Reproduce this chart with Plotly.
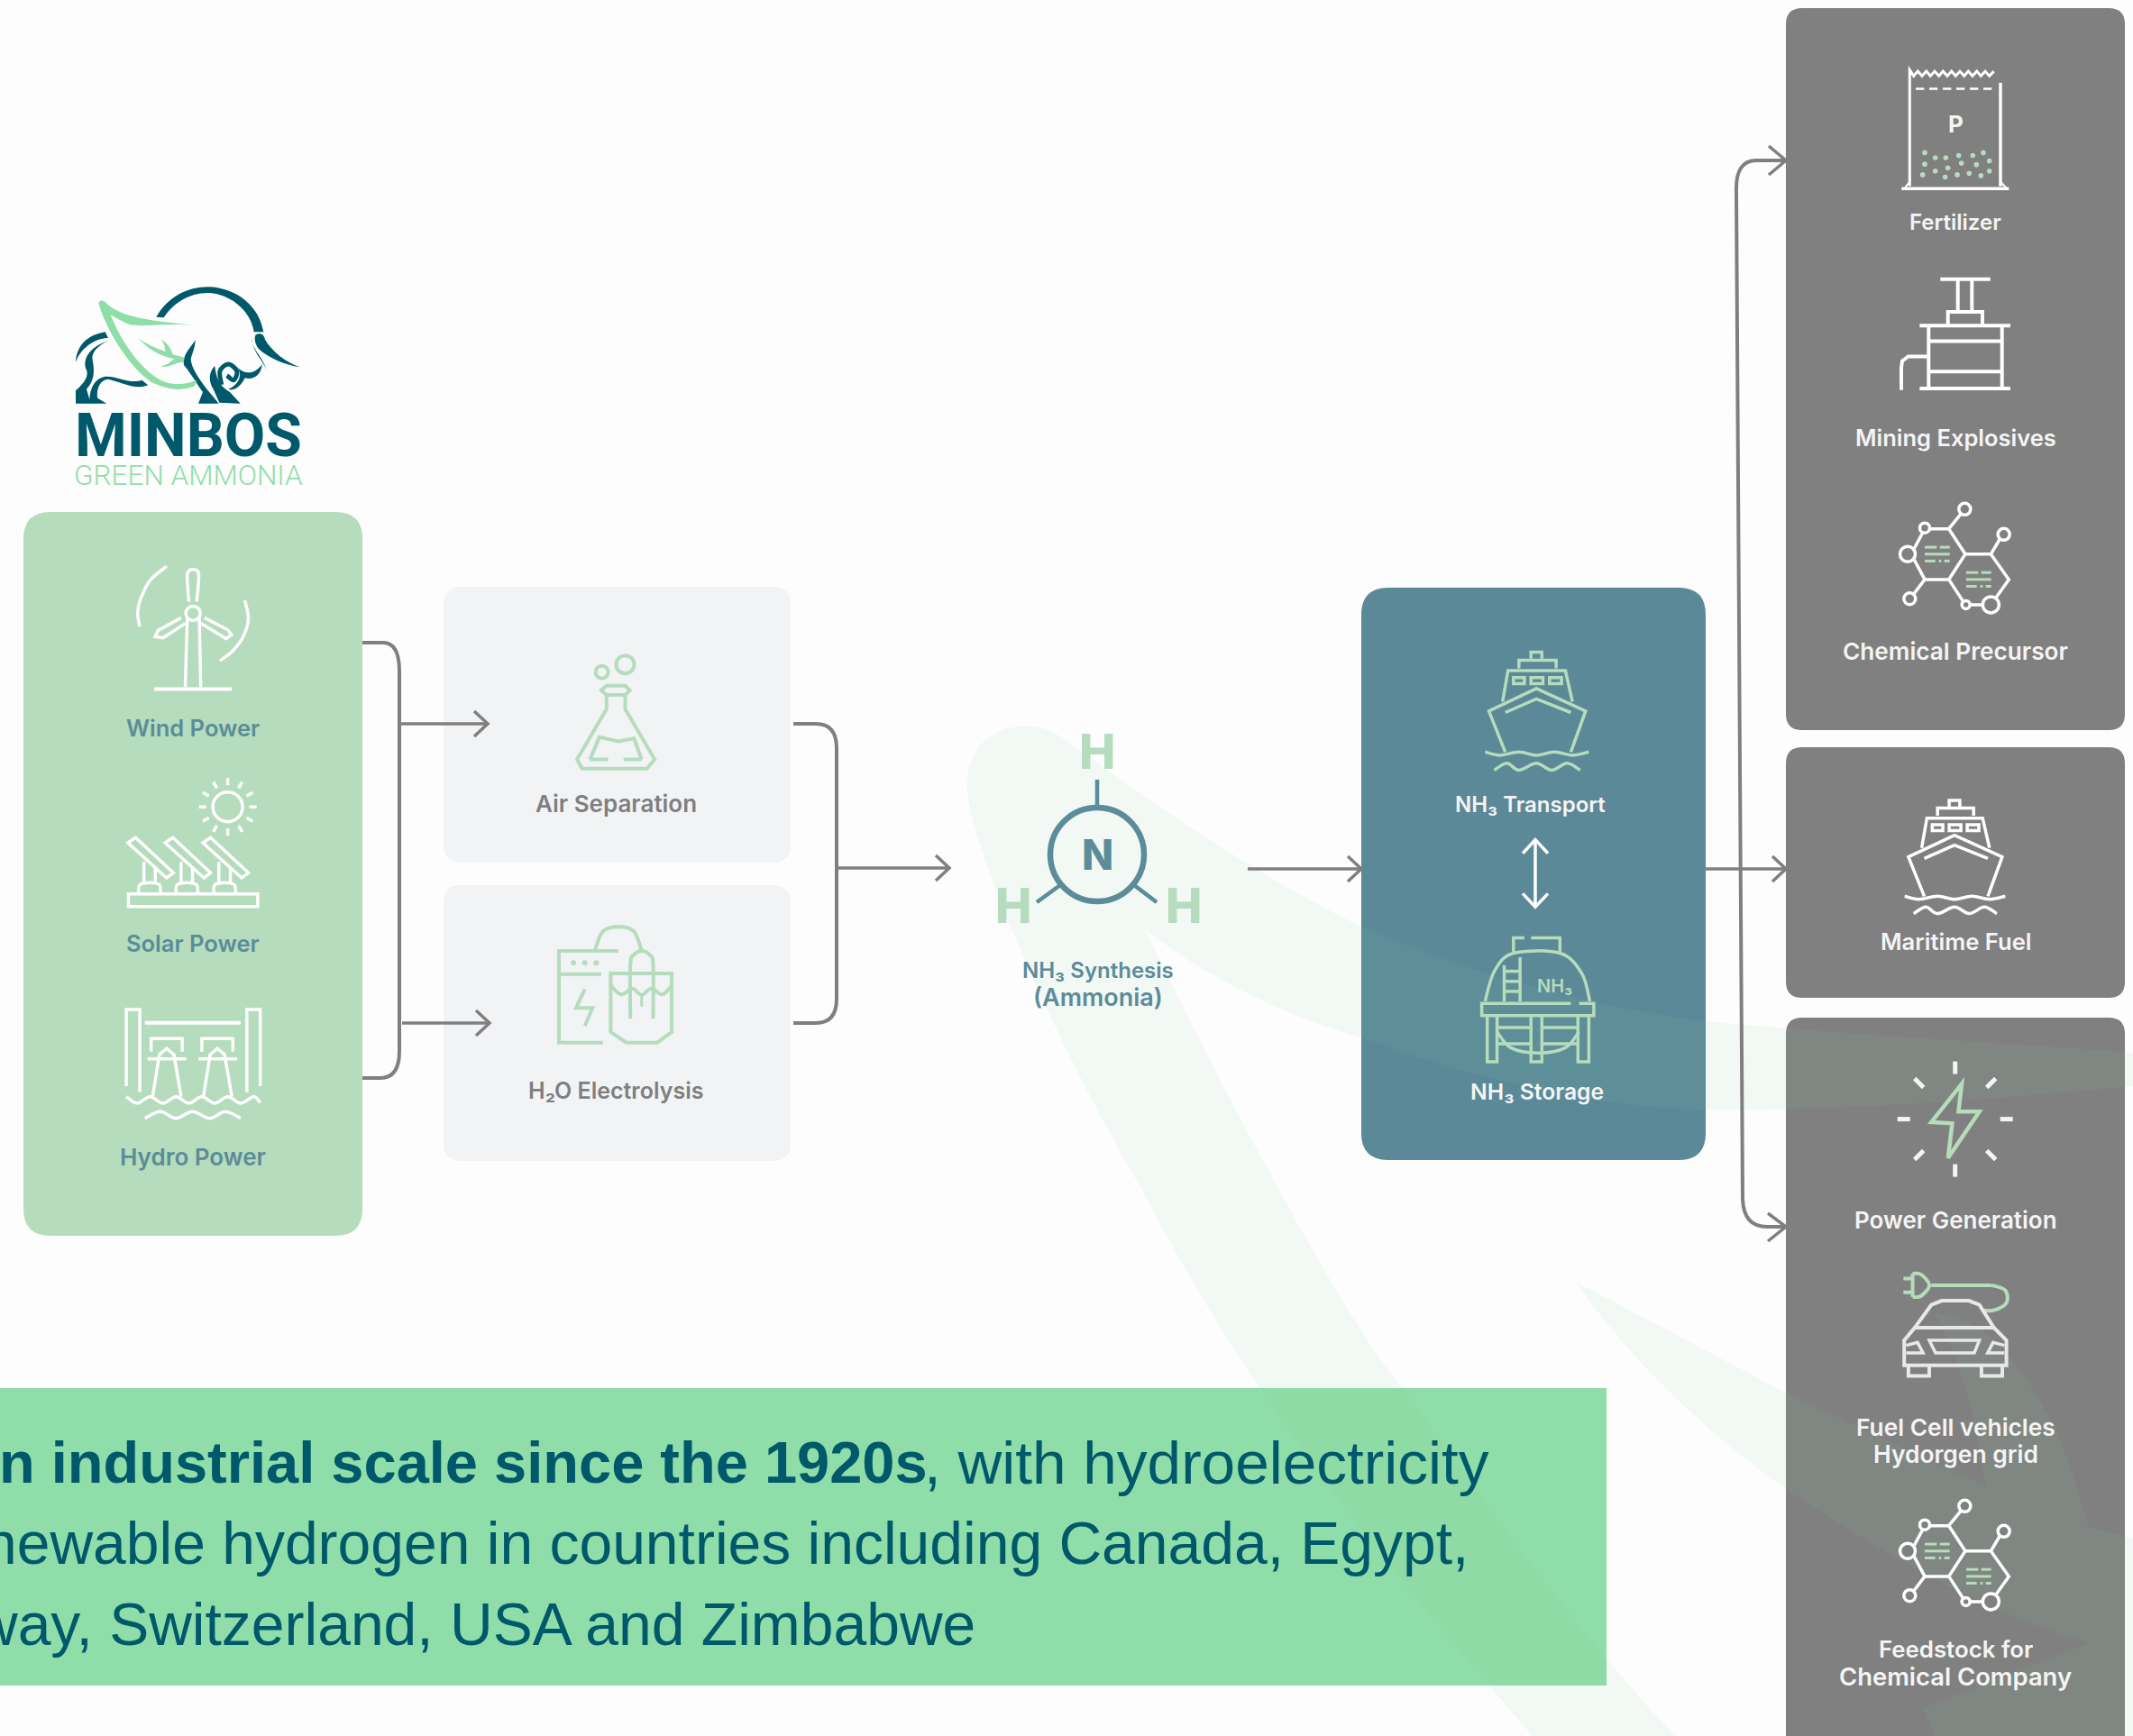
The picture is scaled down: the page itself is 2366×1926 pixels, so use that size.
import plotly.graph_objects as go

# ---------- content ----------
source_labels = ["Wind Power", "Solar Power", "Hydro Power"]
process_labels = ["Air Separation", "H₂O Electrolysis"]
synthesis_labels = ["NH₃ Synthesis", "(Ammonia)"]
storage_labels = ["NH₃ Transport", "NH₃ Storage"]
use_labels_top = ["Fertilizer", "Mining Explosives", "Chemical Precursor"]
use_labels_mid = ["Maritime Fuel"]
use_labels_low = ["Power Generation", "Fuel Cell vehicles", "Hydorgen grid", "Feedstock for", "Chemical Company"]
banner_bold = "n industrial scale since the 1920s"
banner_lines = [
    ", with hydroelectricity",
    "newable hydrogen in countries including Canada, Egypt,",
    "way, Switzerland, USA and Zimbabwe",
]
logo_lines = ["MINBOS", "GREEN AMMONIA"]

# ---------- palette ----------
BG = "#FDFDFD"; PALE = "#B5DCBC"; LIGHT = "#F2F3F5"; TEAL = "#5B8997"; GREY = "#808080"
LINE = "#7F7F7F"; DARK = "#00586B"; MINT = "#8FDDA8"; WHITE = "#F4F4F4"; LABEL = "#5B8C99"
WM = "rgba(130,200,150,0.09)"
FONT = "Inter"

shapes, notes = [], []

# coordinate helpers for drawing regions
z1 = lambda x, y: (x / 1.742, 280 + y / 2.24)
z2 = lambda x, y: (x / 1.742, 900 + y / 3)
z3 = lambda x, y: (1000 + x / 1.65, 620 + y / 2.24)
z4 = lambda x, y: (1900 + x / 3, y / 1.96)
z7 = lambda x, y: (1640 + x / 2.16, 1200 + y / 2.16)
z8 = lambda x, y: (70 + x / 3, 300 + y / 3)
px = lambda x, y: (x, y)


def add_path(d, color=None, w=0, fill=None):
    shapes.append(dict(type="path", path=d, xref="x", yref="y", layer="above",
                       fillcolor=fill or "rgba(0,0,0,0)",
                       line=dict(color=color or "rgba(0,0,0,0)", width=w)))


def S(f, pts, color, w=3.5, close=False, fill=None, smooth=False):
    p = [f(*q) for q in pts]
    d = f"M{p[0][0]:.1f},{p[0][1]:.1f}"
    if smooth:
        n = len(p)
        for i in range(n - 1):
            a = p[max(i - 1, 0)]; b = p[i]; c = p[i + 1]; e = p[min(i + 2, n - 1)]
            d += (f"C{b[0]+(c[0]-a[0])/6:.1f},{b[1]+(c[1]-a[1])/6:.1f} "
                  f"{c[0]-(e[0]-b[0])/6:.1f},{c[1]-(e[1]-b[1])/6:.1f} {c[0]:.1f},{c[1]:.1f}")
    else:
        for q in p[1:]:
            d += f"L{q[0]:.1f},{q[1]:.1f}"
    if close:
        d += "Z"
    add_path(d, color if w else None, w, fill)


def B(f, start, segs, fill):
    """filled outline of cubic segments"""
    s = f(*start)
    d = f"M{s[0]:.1f},{s[1]:.1f}"
    for seg in segs:
        if len(seg) == 1:
            q = f(*seg[0]); d += f"L{q[0]:.1f},{q[1]:.1f}"
        else:
            a, b, c = f(*seg[0]), f(*seg[1]), f(*seg[2])
            d += f"C{a[0]:.1f},{a[1]:.1f} {b[0]:.1f},{b[1]:.1f} {c[0]:.1f},{c[1]:.1f}"
    add_path(d + "Z", fill=fill)


def circle(cx, cy, r, color=None, w=3.5, fill=None):
    shapes.append(dict(type="circle", xref="x", yref="y", layer="above",
                       x0=cx - r, x1=cx + r, y0=cy - r, y1=cy + r,
                       fillcolor=fill or "rgba(0,0,0,0)",
                       line=dict(color=color or "rgba(0,0,0,0)", width=w if color else 0)))


def rrect(x0, y0, x1, y1, r, fill):
    add_path(f"M{x0+r},{y0}L{x1-r},{y0}Q{x1},{y0} {x1},{y0+r}L{x1},{y1-r}Q{x1},{y1} {x1-r},{y1}"
             f"L{x0+r},{y1}Q{x0},{y1} {x0},{y1-r}L{x0},{y0+r}Q{x0},{y0} {x0+r},{y0}Z", fill=fill)


def T(x, y, text, size=24, color=WHITE, weight=600, font=FONT, anchor="center"):
    notes.append(dict(x=x, y=y, xref="x", yref="y", text=text, showarrow=False,
                      xanchor=anchor, yanchor="middle", align=anchor,
                      font=dict(family=font, size=size, color=color, weight=weight)))


def arrow(x0, y0, x1, y1, w=3.5):
    S(px, [(x0, y0), (x1, y1)], LINE, w)
    S(px, [(x1 - 15, y1 - 14), (x1, y1), (x1 - 15, y1 + 14)], LINE, w)


# ---------- panels ----------
rrect(26, 568, 402, 1371, 30, PALE)
rrect(492, 651, 877, 957, 20, LIGHT)
rrect(492, 982, 877, 1288, 20, LIGHT)
rrect(1510, 652, 1892, 1287, 30, TEAL)
rrect(1981, 9, 2357, 810, 18, GREY)
rrect(1981, 829, 2357, 1107, 18, GREY)
rrect(1981, 1129, 2357, 1960, 18, GREY)
shapes.append(dict(type="rect", xref="x", yref="y", layer="above", x0=0, x1=1782, y0=1540, y1=1870,
                   fillcolor=MINT, line=dict(width=0)))

# ---------- watermark leaves ----------
B(px, (2366, 1168), [
    ((2200, 1155), (2050, 1148), (1892, 1133)),
    ((1750, 1115), (1620, 1075), (1510, 1028)),
    ((1400, 975), (1290, 900), (1182, 821)),
    ((1160, 805), (1145, 805), (1136, 806)),
    ((1095, 805), (1062, 840), (1076, 897)),
    ((1100, 1000), (1190, 1190), (1267, 1320)),
    ((1380, 1540), (1530, 1730), (1700, 1926)),
    [(1858, 1926)],
    ((1730, 1790), (1630, 1640), (1556, 1540)),
    ((1500, 1480), (1350, 1200), (1270, 1031)),
    ((1340, 1085), (1420, 1125), (1510, 1151)),
    ((1640, 1200), (1780, 1230), (1892, 1231)),
    ((2050, 1232), (2200, 1220), (2366, 1205)),
], WM)
B(z7, (233, 480), [
    [(735, 745)], [(1215, 970)],
    ((1195, 820), (1160, 680), (1095, 555)),
    ((1200, 560), (1290, 660), (1360, 790)),
    ((1410, 880), (1440, 990), (1460, 1065)),
    [(1580, 1100)], [(1580, 1580)], [(1100, 1580)], [(1065, 1500)], [(1465, 1345)],
    ((1330, 1310), (1180, 1240), (1000, 1140)),
    ((900, 1085), (810, 1025), (735, 975)),
    ((560, 850), (380, 690), (233, 480)),
], WM)

# ---------- connectors ----------
add_path("M402,713L425,713Q443,713 443,745L443,1166Q443,1196 422,1196L402,1196", LINE, 4)
arrow(445, 803, 541, 803)
arrow(446, 1135, 543, 1135)
add_path("M880,803L905,803Q928,803 928,830L928,1108Q928,1135 905,1135L880,1135", LINE, 4)
arrow(928, 963, 1053, 963)
arrow(1384, 964, 1510, 964)
arrow(1892, 964, 1981, 964)
add_path("M1981,178L1948,178Q1925,178 1926,212L1933,1330Q1934,1361 1960,1361L1981,1361", LINE, 4)
S(px, [(1962, 162), (1981, 178), (1962, 194)], LINE, 3.5)
S(px, [(1961, 1346), (1981, 1361), (1961, 1377)], LINE, 3.5)

# ---------- logo ----------
B(z8, (310, 155), [((350, 85), (420, 52), (490, 55)), ((570, 60), (650, 110), (667, 205)), [(635, 205)],
                   ((625, 130), (550, 75), (480, 75)), ((420, 75), (365, 110), (335, 157))], DARK)
B(z8, (640, 215), [((660, 205), (668, 215), (672, 230)), ((695, 270), (740, 305), (788, 322)),
                   ((740, 315), (680, 290), (650, 260)), ((640, 245), (635, 230), (640, 215))], DARK)
B(z8, (628, 225), [((625, 260), (665, 285), (678, 335)), ((668, 300), (630, 275), (628, 225))], DARK)
B(z8, (42, 305), [((45, 250), (80, 215), (140, 205)), [(150, 225)], ((110, 225), (60, 255), (42, 305))], DARK)
B(z8, (150, 235), [((100, 250), (65, 285), (75, 325)), ((90, 350), (70, 375), (42, 400)), [(42, 443)], [(145, 443)],
                   [(115, 425)], ((110, 400), (120, 365), (150, 362)), ((190, 370), (240, 400), (283, 382)), [(262, 365)],
                   ((220, 380), (180, 350), (140, 353)), ((110, 358), (90, 385), (88, 430)), [(78, 395)],
                   ((105, 365), (105, 335), (98, 300)), ((92, 275), (115, 250), (150, 235))], DARK)
B(z8, (440, 232), [((420, 262), (395, 285), (402, 315)), ((430, 350), (450, 385), (465, 405)), [(450, 443)], [(518, 443)],
                   [(482, 400)], ((450, 360), (425, 320), (425, 295)), ((430, 275), (440, 255), (440, 232))], DARK)
B(z8, (505, 318), [((488, 335), (480, 365), (500, 395)), [(520, 440)], [(590, 443)], [(555, 405)],
                   ((530, 390), (510, 370), (505, 318))], DARK)
S(z8, [(527, 380), (522, 335), (550, 312), (578, 335), (568, 365), (545, 350)], DARK, 5, smooth=True)
B(z8, (578, 320), [((605, 350), (640, 345), (662, 312)), ((660, 350), (630, 365), (605, 358)),
                   ((595, 380), (570, 405), (550, 395)), ((585, 380), (600, 345), (578, 320))], DARK)
B(z8, (118, 108), [((125, 95), (135, 100), (150, 115)), ((200, 155), (270, 165), (430, 182)),
                   ((350, 175), (260, 190), (220, 180)), ((200, 172), (170, 155), (158, 148)),
                   ((190, 230), (260, 340), (340, 372)), ((380, 385), (420, 375), (445, 365)), [(438, 385)],
                   ((390, 405), (340, 395), (290, 370)), ((210, 310), (140, 190), (118, 108))], MINT)
B(z8, (250, 225), [((290, 255), (330, 265), (340, 270)), ((340, 255), (335, 240), (325, 230)),
                   ((350, 240), (360, 265), (365, 280)), [(405, 290)], [(400, 305)],
                   ((375, 305), (355, 325), (325, 320)), ((350, 315), (360, 300), (370, 295)),
                   ((320, 285), (280, 260), (250, 225))], MINT)
T(208.5, 483, logo_lines[0], 66, DARK, 700, "Roboto")
T(208.5, 527, logo_lines[1], 31.5, MINT, 300, "Roboto")

# ---------- source icons ----------
W = "#FFFFFF"
S(z1, [(362, 905), (358, 1080)], W); S(z1, [(385, 905), (388, 1080)], W)
S(z1, [(298, 1085), (448, 1085)], W, 4)
circle(*z1(373, 897), 8, W)
S(z1, [(365, 868), (362, 800), (373, 788), (384, 800), (380, 868)], W, smooth=True)
S(z1, [(350, 908), (305, 940), (300, 955), (315, 958), (358, 922)], W)
S(z1, [(395, 908), (440, 938), (447, 950), (437, 960), (388, 922)], W)
S(z1, [(322, 780), (290, 815), (272, 860), (266, 895), (270, 930)], W, smooth=True)
S(z1, [(473, 865), (480, 910), (470, 955), (450, 990), (425, 1015)], W, smooth=True)

sun = z1(440, 1378)
circle(sun[0], sun[1], 16.5, W)
for dx, dy in [(0, 1), (.5, .866), (.866, .5), (1, 0), (.866, -.5), (.5, -.866), (0, -1), (-.5, -.866),
               (-.866, -.5), (-1, 0), (-.866, .5), (-.5, .866)]:
    S(px, [(sun[0] + dx * 24, sun[1] + dy * 24), (sun[0] + dx * 32, sun[1] + dy * 32)], W, 3.5)
for o in (0, 72, 145):
    S(z2, [(247 + o, 105), (262 + o, 88), (335 + o, 205), (322 + o, 222)], W, close=True)
    S(z2, [(278 + o, 168), (278 + o, 245)], W); S(z2, [(300 + o, 190), (300 + o, 240)], W)
    S(z2, [(268 + o, 272), (270 + o, 245), (290 + o, 238), (308 + o, 245), (310 + o, 272)], W, smooth=True)
S(z2, [(248, 275), (498, 275), (498, 317), (248, 317)], W, close=True)

S(z2, [(244, 915), (244, 660), (270, 660), (270, 935)], W)
S(z2, [(503, 915), (503, 660), (477, 660), (477, 935)], W)
S(z2, [(280, 704), (465, 704)], W, 4)
for o in (0, 98):
    S(z2, [(292 + o, 800), (292 + o, 757), (352 + o, 757), (352 + o, 800)], W)
    S(z2, [(285 + o, 824), (360 + o, 824)], W)
    S(z2, [(295 + o, 950), (308 + o, 810), (322 + o, 790), (336 + o, 810), (350 + o, 950)], W)
S(z2, [(244, 950), (265, 972), (290, 950), (315, 972), (340, 950), (365, 972), (390, 950), (415, 972), (440, 950),
       (465, 972), (490, 950), (503, 970)], W, smooth=True)
S(z2, [(280, 1022), (310, 1000), (340, 1022), (372, 1000), (405, 1022), (435, 1000), (465, 1022)], W, smooth=True)

# ---------- process icons ----------
circle(*z1(1163, 1043), 7, PALE, 4); circle(*z1(1208, 1024), 10, PALE, 4)
S(z1, [(1172, 1077), (1208, 1077), (1217, 1088), (1208, 1100), (1172, 1100), (1162, 1088)], PALE, 4, close=True)
S(z1, [(1172, 1100), (1172, 1135), (1115, 1260), (1125, 1283), (1250, 1283), (1265, 1260), (1208, 1135), (1208, 1100)], PALE, 4)
S(z1, [(1140, 1260), (1158, 1205), (1195, 1215), (1225, 1208), (1240, 1260)], PALE, 4)
S(z1, [(1140, 1260), (1175, 1260)], PALE, 4); S(z1, [(1205, 1260), (1240, 1260)], PALE, 4)

S(z2, [(1195, 465), (1080, 465), (1080, 770), (1165, 770)], PALE, 4)
S(z2, [(1080, 542), (1162, 542)], PALE, 4)
for x in (1108, 1130, 1152):
    circle(*z2(x, 505), 3, fill=PALE)
S(z2, [(1130, 592), (1113, 655), (1145, 655), (1130, 715)], PALE, 4)
S(z2, [(1150, 460), (1165, 400), (1195, 385), (1225, 400), (1240, 465)], PALE, 4, smooth=True)
S(z2, [(1180, 540), (1298, 540), (1298, 735), (1270, 770), (1210, 770), (1180, 735)], PALE, 4, close=True)
S(z2, [(1180, 580), (1200, 610), (1222, 590), (1240, 612), (1258, 590), (1280, 610), (1298, 580)], PALE, 4, smooth=True)
S(z2, [(1218, 690), (1218, 510), (1225, 478), (1240, 465), (1255, 478), (1262, 510), (1262, 690)], PALE, 4, smooth=True)
S(z2, [(1240, 612), (1240, 650)], PALE, 3)

# ---------- molecule ----------
circle(1217, 948, 52, LABEL, 6.5)
S(px, [(1217, 865), (1217, 896)], LABEL, 4.5)
S(px, [(1150, 1001), (1176, 982)], LABEL, 4.5)
S(px, [(1283, 1001), (1258, 982)], LABEL, 4.5)
T(1217, 948, "N", 46, LABEL, 800)
T(1217, 833, "H", 54, PALE, 800)
T(1124, 1004, "H", 54, PALE, 800)
T(1313, 1004, "H", 54, PALE, 800)


# ---------- ship ----------
def ship(f, color, w=3.5):
    S(f, [(1152, 248), (1152, 232), (1172, 232), (1172, 248)], color, w)
    S(f, [(1130, 272), (1130, 252), (1198, 252), (1198, 272)], color, w)
    S(f, [(1100, 355), (1110, 278), (1215, 278), (1228, 355)], color, w)
    for a, b in ((1120, 1140), (1152, 1174), (1186, 1208)):
        S(f, [(a, 295), (b, 295), (b, 310), (a, 310)], color, w, close=True)
    S(f, [(1105, 480), (1075, 378), (1162, 322), (1252, 378), (1225, 480)], color, w)
    S(f, [(1105, 382), (1162, 348), (1225, 382)], color, w)
    S(f, [(1068, 480), (1095, 488), (1130, 480), (1162, 488), (1195, 480), (1228, 488), (1258, 480)], color, w, smooth=True)
    S(f, [(1085, 525), (1108, 508), (1130, 525), (1162, 508), (1190, 525), (1218, 508), (1242, 525)], color, w, smooth=True)


ship(z3, PALE)
ship(lambda x, y: (2168 + (x - 1162) / 1.65 * 0.97, 888 + (y - 232) / 2.24 * 0.96), W)

# storage arrow
S(z3, [(1160, 698), (1160, 865)], W, 3.5)
S(z3, [(1137, 732), (1160, 698), (1183, 732)], W, 3.5)
S(z3, [(1137, 832), (1160, 865), (1183, 832)], W, 3.5)

# ---------- tank ----------
S(z3, [(1120, 978), (1120, 942), (1140, 942)], PALE)
S(z3, [(1152, 942), (1205, 942), (1205, 978)], PALE)
S(z3, [(1068, 1100), (1085, 1025), (1120, 980), (1205, 980), (1245, 1030), (1260, 1100)], PALE, smooth=True)
S(z3, [(1103, 1010), (1103, 1100)], PALE); S(z3, [(1132, 990), (1132, 1100)], PALE)
for y in (1025, 1050, 1075):
    S(z3, [(1103, y), (1132, y)], PALE)
S(z3, [(1225, 1105), (1062, 1105), (1062, 1135), (1267, 1135), (1267, 1105), (1240, 1105)], PALE)
for a, b in ((1072, 1090), (1152, 1172), (1238, 1258)):
    S(z3, [(a, 1135), (a, 1250), (b, 1250), (b, 1135)], PALE)
for y in (1165, 1205):
    S(z3, [(1090, y), (1152, y)], PALE); S(z3, [(1172, y), (1238, y)], PALE)
S(z3, [(1090, 1175), (1115, 1215), (1165, 1228), (1215, 1215), (1240, 1175)], PALE, smooth=True)
T(*z3(1196, 1062), "NH₃", 20, PALE, 600)

# ---------- bag ----------
S(z4, [(655, 405), (655, 152), (668, 165), (682, 155), (696, 165), (710, 155), (724, 165), (738, 155), (752, 165),
       (766, 155), (780, 165), (794, 155), (808, 165), (822, 155), (836, 165), (850, 155), (864, 165), (878, 155),
       (892, 165), (906, 155), (920, 165), (935, 155)], W, 3)
S(z4, [(957, 180), (957, 405)], W, 3.5)
for x in range(675, 940, 45):
    S(z4, [(x, 193), (x + 28, 193)], W, 2.5)
S(z4, [(628, 410), (985, 410)], W, 3.5)
S(z4, [(655, 395), (640, 408)], W, 2); S(z4, [(957, 395), (975, 408)], W, 2)
T(*z4(808, 270), "P", 26, WHITE, 700)
for q in [(705, 332), (740, 343), (775, 343), (818, 338), (865, 338), (900, 332), (920, 350), (705, 357), (782, 365),
          (827, 355), (877, 358), (698, 380), (740, 372), (773, 385), (813, 380), (853, 377), (892, 382), (920, 372)]:
    circle(*z4(*q), 2.8, fill=PALE)

# ---------- press ----------
S(z4, [(757, 607), (923, 607)], W, 4)
S(z4, [(815, 607), (815, 675)], W, 4); S(z4, [(862, 607), (862, 675)], W, 4)
S(z4, [(782, 705), (782, 678), (897, 678), (897, 705)], W, 4)
S(z4, [(688, 708), (990, 708)], W, 4)
S(z4, [(718, 708), (718, 845)], W, 4); S(z4, [(962, 708), (962, 845)], W, 4)
S(z4, [(718, 742), (962, 742)], W, 4); S(z4, [(718, 808), (962, 808)], W, 4)
S(z4, [(688, 845), (990, 845)], W, 4)
S(z4, [(718, 775), (650, 775), (630, 785), (627, 800), (627, 848)], W, 4)


# ---------- molecule network ----------
def network(dy):
    f = lambda x, y: (1900 + x / 3, y / 1.96 + dy)
    S(f, [(785, 1150), (840, 1205), (785, 1260), (705, 1260), (660, 1205), (705, 1150)], W, close=True)
    S(f, [(840, 1205), (925, 1205), (985, 1260), (925, 1315), (840, 1315), (785, 1260)], W)
    for q, r in (((838, 1107), 6.5), ((968, 1162), 6.5), ((655, 1302), 6.5), ((648, 1205), 8.5), ((705, 1148), 5.5),
                 ((925, 1315), 9), ((842, 1315), 4.5)):
        circle(*f(*q), r, W, 3.5, fill=GREY)
    S(f, [(785, 1150), (825, 1118)], W); S(f, [(925, 1205), (955, 1172)], W); S(f, [(705, 1260), (668, 1292)], W)
    for ox, oy in ((0, 0), (138, 55)):
        S(f, [(705 + ox, 1190 + oy), (745 + ox, 1190 + oy)], PALE, 3)
        S(f, [(755 + ox, 1190 + oy), (788 + ox, 1190 + oy)], PALE, 3)
        S(f, [(705 + ox, 1205 + oy), (788 + ox, 1205 + oy)], PALE, 3)
        S(f, [(705 + ox, 1220 + oy), (740 + ox, 1220 + oy)], PALE, 3)
        S(f, [(752 + ox, 1220 + oy), (760 + ox, 1220 + oy)], PALE, 3)
        S(f, [(770 + ox, 1220 + oy), (788 + ox, 1220 + oy)], PALE, 3)


network(0)
network(1106)

# ---------- bolt ----------
S(z7, [(1158, 5), (1085, 97), (1135, 100), (1125, 183), (1200, 72), (1150, 72)], PALE, 4.5, close=True)
for dx, dy in ((0, -1), (0, 1), (1, 0), (-1, 0)):
    S(px, [(2168.7 + dx * 50, 1241.6 + dy * 50), (2168.7 + dx * 64, 1241.6 + dy * 64)], WHITE, 5)
for dx, dy in ((1, 1), (1, -1), (-1, 1), (-1, -1)):
    S(px, [(2168.7 + dx * 35, 1241.6 + dy * 35), (2168.7 + dx * 45, 1241.6 + dy * 45)], WHITE, 5)

# ---------- car ----------
S(z7, [(1085, 488), (1230, 488)], PALE, 4)
S(z7, [(1230, 488), (1262, 500), (1265, 530), (1235, 548), (1212, 548)], PALE, 4, smooth=True)
S(z7, [(1040, 460), (1060, 462), (1080, 488), (1060, 514), (1040, 516)], PALE, 4, smooth=True)
S(z7, [(1040, 460), (1040, 516)], PALE, 4)
S(z7, [(1018, 472), (1040, 472)], PALE, 4); S(z7, [(1018, 505), (1040, 505)], PALE, 4)
C = "#E8E8E8"
S(z7, [(1045, 590), (1085, 535), (1110, 525), (1175, 525), (1200, 535), (1235, 590)], C, 4)
S(z7, [(1020, 680), (1020, 620), (1045, 590), (1235, 590), (1265, 620), (1265, 680)], C, 4, close=True)
S(z7, [(1080, 620), (1200, 620), (1188, 650), (1095, 650)], C, 3.5, close=True)
S(z7, [(1025, 650), (1065, 650), (1052, 625), (1025, 632)], C, 3.5)
S(z7, [(1260, 650), (1220, 650), (1233, 625), (1260, 632)], C, 3.5)
S(z7, [(1030, 680), (1030, 705), (1080, 705), (1080, 680)], C, 4)
S(z7, [(1205, 680), (1205, 705), (1255, 705), (1255, 680)], C, 4)

# ---------- labels ----------
for y, t, s in zip((807, 1046, 1283), source_labels, (25.5, 25.5, 26)):
    T(213.5, y, t, s, LABEL)
for y, t, s in zip((891, 1210), process_labels, (26, 25)):
    T(683, y, t, s, LINE)
for y, t, s in zip((1076, 1106), synthesis_labels, (24, 27)):
    T(1218, y, t, s, LABEL)
T(1697, 892, storage_labels[0], 24, WHITE)
T(1705, 1211, storage_labels[1], 24.7, WHITE)
for y, t, s in zip((246, 485, 722), use_labels_top, (24, 25.5, 26.2)):
    T(2169, y, t, s)
T(2169, 1044, use_labels_mid[0], 25.6)
for y, t, s in zip((1353, 1583, 1613, 1829, 1860), use_labels_low, (26, 26.3, 26.4, 25.8, 27.4)):
    T(2169, y, t, s)

# ---------- banner text ----------
T(1031, 1622, f"<b>{banner_bold}</b>", 65, DARK, 400, "Liberation Sans", "right")
for x, y, t, s in zip((1654, 1631, 1084), (1622, 1712, 1802), banner_lines, (67.5, 66, 66)):
    T(x, y, t, s, DARK, 400, "Liberation Sans", "right")

fig = go.Figure()
fig.update_layout(width=2366, height=1926, margin=dict(l=0, r=0, t=0, b=0),
                  paper_bgcolor=BG, plot_bgcolor=BG, showlegend=False,
                  xaxis=dict(range=[0, 2366], visible=False, fixedrange=True),
                  yaxis=dict(range=[1926, 0], visible=False, fixedrange=True),
                  shapes=shapes, annotations=notes)
fig.write_html("out.html", config=dict(displayModeBar=False),
               post_script="document.body.style.margin='0';document.body.style.overflow='hidden';")
